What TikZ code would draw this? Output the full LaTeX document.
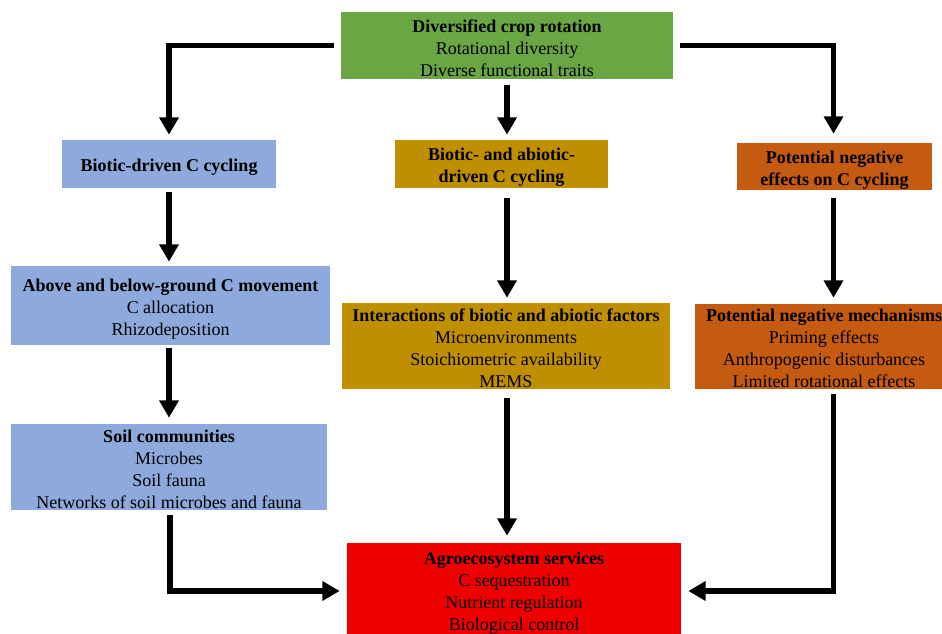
\documentclass[tikz,border=0pt]{standalone}
\usepackage{fontspec}
\setmainfont{Liberation Serif}
\usetikzlibrary{arrows.meta,calc}
\definecolor{cgreen}{RGB}{106,166,68}
\definecolor{cblue}{RGB}{142,169,219}
\definecolor{cgold}{RGB}{191,143,0}
\definecolor{corange}{RGB}{197,90,17}
\definecolor{cred}{RGB}{238,0,0}
\tikzset{
  box/.style={inner sep=0pt},
  txt/.style={inner sep=0pt, align=center, text=black,
    font=\fontsize{13.5}{16.5}\selectfont},
  arr/.style={line width=4pt, -{Triangle[width=14pt,length=13pt]}},
}
\begin{document}
\begin{tikzpicture}[x=0.75pt,y=-0.75pt]
\clip (0,0) rectangle (942,634);
\fill[white] (0,0) rectangle (942,634);
\node[box, fill=cgreen, minimum width=249pt, minimum height=50.25pt] (green) at (507,45.5) {};
\node[txt] (greenT) at ($(green)+(0,2.5)$)
  {\textbf{Diversified crop rotation}\\Rotational diversity\\Diverse functional traits};
\node[box, fill=cblue, minimum width=160.5pt, minimum height=36pt] (bio) at (169,164) {};
\node[txt] (bioT) at ($(bio)+(0,3.5)$) {\textbf{Biotic-driven C cycling}};
\node[box, fill=cgold, minimum width=159.75pt, minimum height=36pt] (ba) at (501.5,164) {};
\node[txt] (baT) at ($(ba)+(0,3)$) {\textbf{Biotic- and abiotic-}\\\textbf{driven C cycling}};
\node[box, fill=corange, minimum width=146.25pt, minimum height=35.25pt] (pot) at (834.5,166.5) {};
\node[txt] (potT) at ($(pot)+(0,3.5)$) {\textbf{Potential negative}\\\textbf{effects on C cycling}};
\node[box, fill=cblue, minimum width=239.25pt, minimum height=59.25pt] (above) at (170.5,305.5) {};
\node[txt] (aboveT) at ($(above)+(0,3.5)$)
  {\textbf{Above and below-ground C movement}\\C allocation\\Rhizodeposition};
\node[box, fill=cgold, minimum width=246pt, minimum height=64.5pt] (inter) at (506,346) {};
\node[txt] (interT) at ($(inter)+(0,2)$)
  {\textbf{Interactions of biotic and abiotic factors}\\Microenvironments\\Stoichiometric availability\\MEMS};
\node[box, fill=corange, minimum width=193.5pt, minimum height=63.75pt] (mech) at (824,346.5) {};
\node[txt] (mechT) at ($(mech)+(0,2)$)
  {\textbf{Potential negative mechanisms}\\Priming effects\\Anthropogenic disturbances\\Limited rotational effects};
\node[box, fill=cblue, minimum width=237pt, minimum height=64.5pt] (soil) at (169,467) {};
\node[txt] (soilT) at ($(soil)+(0,2)$)
  {\textbf{Soil communities}\\Microbes\\Soil fauna\\Networks of soil microbes and fauna};
\node[box, fill=cred, minimum width=250.5pt, minimum height=72pt] (agro) at (514,591) {};
\node[txt] (agroT) at ($(agro)+(0,2.5)$)
  {\textbf{Agroecosystem services}\\C sequestration\\Nutrient regulation\\Biological control};
\draw[arr] ($(green.west)+(-7,0)$) -| ($(bio.north)+(0,-5)$);
\draw[arr] ($(green.east)+(7,0)$) -| ($(pot.north)+(-1,-9)$);
\draw[arr] ($(green.south)+(0,6)$) -- ($(green.south |- ba.north)+(0,-5)$);
\draw[arr] ($(bio.south)+(0,4)$) -- ($(bio.south |- above.north)+(0,-4)$);
\draw[arr] ($(bio.south |- above.south)+(0,3)$) -- ($(bio.south |- soil.north)+(0,-6)$);
\draw[arr] ($(green.south |- ba.south)+(0,10)$) -- ($(green.south |- inter.north)+(0,-5)$);
\draw[arr] ($(pot.south)+(-1,8)$) -- ($(pot.south |- mech.north)+(-1,-6)$);
\draw[arr] ($(green.south |- inter.south)+(0,9)$) -- ($(green.south |- agro.north)+(0,-7)$);
\draw[arr] ($(soil.south)+(1,5)$) |- ($(agro.west)+(-7,0)$);
\draw[arr] ($(pot.south |- mech.south)+(-1,5)$) |- ($(agro.east)+(7,0)$);
\end{tikzpicture}
\end{document}
